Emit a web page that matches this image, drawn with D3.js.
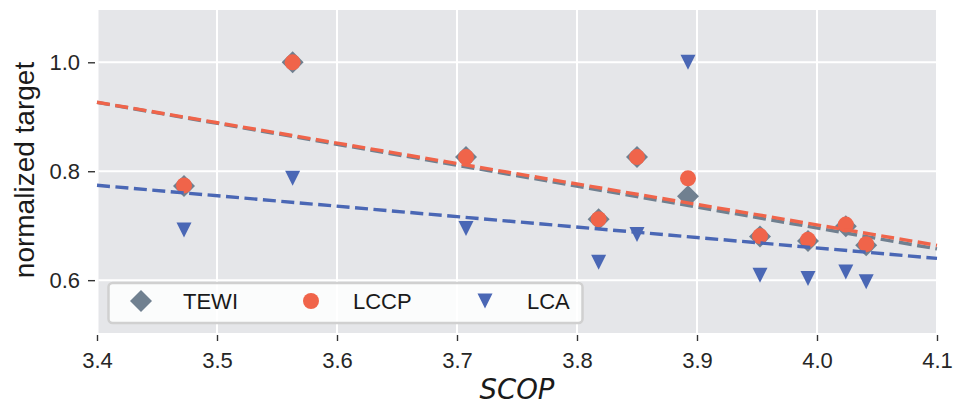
<!DOCTYPE html>
<html>
<head>
<meta charset="utf-8">
<script src="https://cdn.jsdelivr.net/npm/d3@7"></script>
<style>
  html, body { margin: 0; padding: 0; background: #ffffff; }
  svg { display: block; }
</style>
</head>
<body>
<svg id="chart" width="956" height="404"></svg>
<script>
// ---- data ----
const scop = [3.4725, 3.563, 3.7075, 3.818, 3.85, 3.8925, 3.9525, 3.9925, 4.024, 4.041];
const tewi = [0.773, 1.000, 0.826, 0.712, 0.826, 0.754, 0.680, 0.672, 0.699, 0.664];
const lccp = [0.774, 1.000, 0.826, 0.712, 0.826, 0.787, 0.681, 0.674, 0.702, 0.666];
const lca  = [0.692, 0.787, 0.695, 0.633, 0.684, 1.000, 0.609, 0.603, 0.615, 0.597];
const seriesNames = ["TEWI", "LCCP", "LCA"];
const xTicks = [3.4, 3.5, 3.6, 3.7, 3.8, 3.9, 4.0, 4.1];
const yTicks = [0.6, 0.8, 1.0];
const xDomain = [3.4, 4.1];
const yDomain = [0.503, 1.096];

// ---- styles ----
const colors = { TEWI: "#708090", LCCP: "#f0644a", LCA: "#4a67b5" };
const shapes = {
  TEWI: "M0,-11L11,0L0,11L-11,0Z",
  LCCP: "M8,0A8,8 0 1,1 -8,0A8,8 0 1,1 8,0Z",
  LCA:  "M-7.5,-7.5L7.5,-7.5L0,7.5Z"
};
const valuesBy = { TEWI: tewi, LCCP: lccp, LCA: lca };

const svg = d3.select("#chart");
const L = 97, R = 937, T = 10, B = 333;
const x = d3.scaleLinear().domain(xDomain).range([L, R]);
const y = d3.scaleLinear().domain(yDomain).range([B, T]);

// plot background
svg.append("rect").attr("x", L + 1.5).attr("y", T).attr("width", R - L - 2.5).attr("height", B - T)
  .attr("fill", "#e5e6e9");

// grid
const grid = svg.append("g");
grid.selectAll("line.vx").data(xTicks).join("line")
  .attr("x1", d => x(d)).attr("x2", d => x(d)).attr("y1", T).attr("y2", B)
  .attr("stroke", "#ffffff").attr("stroke-width", 2);
grid.selectAll("line.hy").data(yTicks).join("line")
  .attr("x1", L + 1.5).attr("x2", R - 1).attr("y1", d => y(d)).attr("y2", d => y(d))
  .attr("stroke", "#ffffff").attr("stroke-width", 2);

// axes
const fontMain = "'Liberation Sans', Arial, Helvetica, sans-serif";
const xAxis = svg.append("g").attr("transform", `translate(0,${B + 2})`)
  .call(d3.axisBottom(x).tickValues(xTicks).tickFormat(d3.format(".1f")).tickSize(6).tickPadding(11));
const yAxis = svg.append("g").attr("transform", `translate(${L - 2},0)`)
  .call(d3.axisLeft(y).tickValues(yTicks).tickFormat(d3.format(".1f")).tickSize(7).tickPadding(8));
[xAxis, yAxis].forEach(a => {
  a.select(".domain").remove();
  a.selectAll(".tick line").attr("stroke", "#333333").attr("stroke-width", 1.4);
  a.selectAll(".tick text").attr("fill", "#262626").style("font-family", fontMain).style("font-size", "22px");
});

// linear least-squares fit of the data
function fit(xs, ys) {
  const mx = d3.mean(xs), my = d3.mean(ys);
  let sxy = 0, sxx = 0;
  xs.forEach((v, i) => { sxy += (v - mx) * (ys[i] - my); sxx += (v - mx) * (v - mx); });
  const b = sxy / sxx;
  return v => my + b * (v - mx);
}

const plot = svg.append("g");
seriesNames.forEach(name => {
  const vals = valuesBy[name];
  const pts = scop.map((s, i) => ({ s, v: vals[i] }));
  plot.append("g").selectAll("path").data(pts).join("path")
    .attr("d", shapes[name])
    .attr("transform", d => `translate(${x(d.s)},${y(d.v)})`)
    .attr("fill", colors[name]);
  const f = fit(scop, vals);
  plot.append("line")
    .attr("x1", x(xDomain[0])).attr("y1", y(f(xDomain[0])))
    .attr("x2", x(xDomain[1])).attr("y2", y(f(xDomain[1])))
    .attr("stroke", colors[name]).attr("stroke-width", 3.4)
    .attr("stroke-dasharray", "13,5.5");
});

// legend
const lg = svg.append("g");
lg.append("rect").attr("x", 108.5).attr("y", 283).attr("width", 474).attr("height", 40).attr("rx", 4)
  .attr("fill", "#ffffff").attr("fill-opacity", 0.85)
  .attr("stroke", "#d0d0d0").attr("stroke-width", 2.5);
const legendItems = [
  { name: "TEWI", mx: 141, tx: 183 },
  { name: "LCCP", mx: 311, tx: 353 },
  { name: "LCA",  mx: 485, tx: 527 }
];
legendItems.forEach(it => {
  lg.append("path").attr("d", shapes[it.name]).attr("transform", `translate(${it.mx},301)`)
    .attr("fill", colors[it.name]);
  lg.append("text").attr("x", it.tx).attr("y", 309).text(it.name)
    .attr("fill", "#1a1a1a").style("font-family", fontMain).style("font-size", "22px");
});

// axis labels
svg.append("text").attr("x", (L + R) / 2).attr("y", 399).attr("text-anchor", "middle")
  .text("SCOP").attr("fill", "#1a1a1a")
  .style("font-family", "'DejaVu Sans', sans-serif").style("font-style", "italic").style("font-size", "27.5px");
svg.append("text").attr("transform", "translate(34,170) rotate(-90)").attr("text-anchor", "middle")
  .text("normalized target").attr("fill", "#1a1a1a")
  .style("font-family", fontMain).style("font-size", "28px");
</script>
</body>
</html>
